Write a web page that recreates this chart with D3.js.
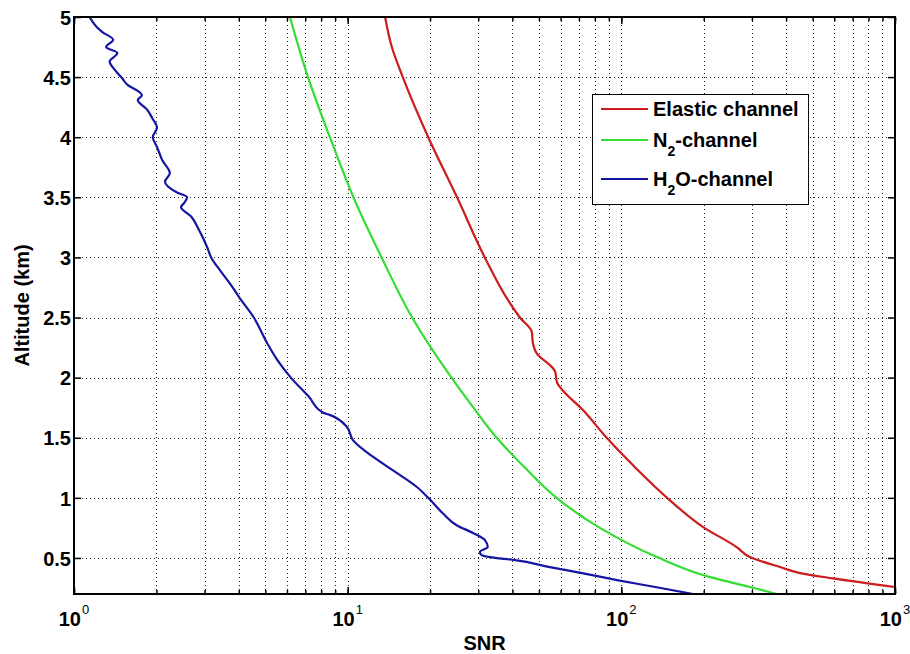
<!DOCTYPE html>
<html>
<head>
<meta charset="utf-8">
<script src="https://cdn.jsdelivr.net/npm/d3@7"></script>
<style>
body{margin:0;background:#fff;}
svg{display:block;font-family:"Liberation Sans",Arial,Helvetica,sans-serif;}
.grid line{stroke:#222;stroke-width:1;stroke-dasharray:1,3;}
.tick text{font-weight:bold;}
</style>
</head>
<body>
<svg id="chart" width="910" height="654"></svg>
<script>
'use strict';
/*
 *
 *	Data
 *
 */
var seriesNames = ["Elastic channel", "N2-channel", "H2O-channel"];

var elasticAlt = [5.0, 4.75, 4.5, 4.0, 3.5, 3.0, 2.646, 2.5, 2.38, 2.29, 2.19, 2.105, 2.05, 1.96, 1.92, 1.73, 1.497, 1.256, 1.0, 0.757, 0.59, 0.507, 0.424, 0.374, 0.33, 0.258];
var elasticSnr = [13.7, 14.5, 15.9, 19.7, 25.1, 31.7, 38.5, 42.6, 47.1, 47.5, 49.5, 54.8, 57.3, 58.2, 59.7, 72.4, 88.6, 112, 147, 199, 264, 295, 380, 450, 593, 1000];

var n2Alt = [5.0, 4.5, 4.0, 3.5, 3.0, 2.5, 2.02, 1.75, 1.497, 1.25, 1.0, 0.75, 0.507, 0.34, 0.258, 0.2];
var n2Snr = [6.15, 7.16, 8.61, 10.5, 13.3, 17.2, 23.6, 28.8, 35.1, 44.5, 58.0, 83.5, 135, 211, 295, 370];

var h2oAlt = [5.0, 4.917, 4.875, 4.81, 4.75, 4.70, 4.63, 4.56, 4.49, 4.43, 4.39, 4.35, 4.31, 4.23, 4.16, 4.08, 4.0, 3.92, 3.81, 3.70, 3.63, 3.54, 3.50, 3.45, 3.42, 3.34, 3.23, 3.09, 3.0, 2.88, 2.77, 2.67, 2.5, 2.29, 2.15, 2.0, 1.84, 1.71, 1.69, 1.59, 1.48, 1.34, 1.23, 1.09, 1.0, 0.87, 0.77, 0.71, 0.65, 0.59, 0.55, 0.525, 0.507, 0.482, 0.424, 0.374, 0.316, 0.258, 0.2];
var h2oSnr = [1.14, 1.21, 1.27, 1.39, 1.31, 1.44, 1.35, 1.41, 1.50, 1.58, 1.70, 1.77, 1.71, 1.85, 1.93, 2.01, 1.94, 2.01, 2.10, 2.24, 2.15, 2.38, 2.59, 2.52, 2.46, 2.68, 2.86, 3.06, 3.17, 3.45, 3.75, 4.01, 4.54, 5.07, 5.52, 6.20, 7.22, 8.11, 8.6, 9.94, 10.45, 12.4, 14.6, 17.9, 19.7, 22.3, 25.1, 28.6, 31.7, 32.5, 30.4, 30.8, 33.1, 40.9, 54.8, 71.8, 96.4, 133, 183];

var xMajor = [1, 10, 100, 1000];
var xExp = ["0", "1", "2", "3"];
var yTicks = [0.5, 1, 1.5, 2, 2.5, 3, 3.5, 4, 4.5, 5];

/*
 *
 *	Setup
 *
 */
var L = 74, R = 895, T = 17, B = 594;
var svg = d3.select("#chart");
var x = d3.scaleLog().domain([1, 1000]).range([L, R]);
var y = d3.scaleLinear().domain([0.2, 5]).range([B, T]);
var xMinor = x.ticks();

// points bottom-up so the monotone curve behaves
function pairs(a, s){
	return a.map(function(d, i){ return [s[i], d]; }).reverse();
}
var series = [
	{name: seriesNames[0], color: "#cc1c1c", pts: pairs(elasticAlt, elasticSnr), sub: null},
	{name: seriesNames[1], color: "#33dd33", pts: pairs(n2Alt, n2Snr), sub: ["N", "2", "-channel"]},
	{name: seriesNames[2], color: "#1515a3", pts: pairs(h2oAlt, h2oSnr), sub: ["H", "2", "O-channel"]}
];

svg.append("clipPath").attr("id", "clip")
	.append("rect").attr("x", L).attr("y", T).attr("width", R - L).attr("height", B - T);

// grid
var grid = svg.append("g").attr("class", "grid");
grid.selectAll(".gx").data(xMinor.filter(function(d){ return d > 1 && d < 1000; }))
	.enter().append("line")
	.attr("x1", function(d){ return Math.round(x(d)) + 0.5; })
	.attr("x2", function(d){ return Math.round(x(d)) + 0.5; })
	.attr("y1", T).attr("y2", B);
grid.selectAll(".gy").data(yTicks.filter(function(d){ return d < 5; }))
	.enter().append("line")
	.attr("y1", function(d){ return Math.round(y(d)) + 0.5; })
	.attr("y2", function(d){ return Math.round(y(d)) + 0.5; })
	.attr("x1", L).attr("x2", R);

// lines
var line = d3.line()
	.x(function(d){ return x(d[0]); })
	.y(function(d){ return y(d[1]); })
	.curve(d3.curveMonotoneY);
svg.append("g").attr("clip-path", "url(#clip)")
	.selectAll("path").data(series).enter().append("path")
	.attr("fill", "none")
	.attr("stroke", function(d){ return d.color; })
	.attr("stroke-width", 2.2)
	.attr("stroke-linejoin", "round")
	.attr("d", function(d){ return line(d.pts); });

/*
 *
 *	Axes (ticks inward, box)
 *
 */
function plainAxis(g, gen){
	g.call(gen);
	g.select(".domain").remove();
	g.selectAll("line").attr("stroke", "#000").attr("stroke-width", 1.5);
}
svg.append("g").attr("transform", "translate(0," + B + ")")
	.call(plainAxis, d3.axisBottom(x).tickValues(xMinor).tickSize(-4).tickFormat(""));
svg.append("g").attr("transform", "translate(0," + T + ")")
	.call(plainAxis, d3.axisTop(x).tickValues(xMinor).tickSize(-4).tickFormat(""));
svg.append("g").attr("transform", "translate(0," + B + ")")
	.call(plainAxis, d3.axisBottom(x).tickValues(xMajor).tickSize(-7).tickFormat(""));
svg.append("g").attr("transform", "translate(0," + T + ")")
	.call(plainAxis, d3.axisTop(x).tickValues(xMajor).tickSize(-7).tickFormat(""));
svg.append("g").attr("transform", "translate(" + R + ",0)")
	.call(plainAxis, d3.axisRight(y).tickValues(yTicks).tickSize(-7).tickFormat(""));

var yAxis = svg.append("g").attr("transform", "translate(" + L + ",0)")
	.call(d3.axisLeft(y).tickValues(yTicks).tickSize(-7).tickPadding(3).tickFormat(d3.format("")));
yAxis.select(".domain").remove();
yAxis.selectAll("line").attr("stroke", "#000").attr("stroke-width", 1.5);
yAxis.selectAll("text").attr("font-size", 20).attr("fill", "#000").attr("dy", "0.36em");

// x labels 10^n
var xl = svg.append("g").selectAll("text").data(xMajor).enter().append("text")
	.attr("x", function(d){ return x(d); })
	.attr("y", 626)
	.attr("text-anchor", "middle")
	.attr("font-weight", "bold")
	.attr("font-size", 20);
xl.append("tspan").text("10");
xl.append("tspan").attr("dy", -12).attr("dx", 1).attr("font-size", 13).attr("font-weight", "normal")
	.text(function(d, i){ return xExp[i]; });

svg.append("rect").attr("x", L).attr("y", T).attr("width", R - L).attr("height", B - T)
	.attr("fill", "none").attr("stroke", "#000").attr("stroke-width", 2);

// axis titles
svg.append("text").attr("x", (L + R) / 2).attr("y", 650).attr("text-anchor", "middle")
	.attr("font-weight", "bold").attr("font-size", 20).text("SNR");
svg.append("text").attr("transform", "translate(29," + (T + B) / 2 + ") rotate(-90)")
	.attr("text-anchor", "middle").attr("font-weight", "bold").attr("font-size", 20)
	.text("Altitude (km)");

/*
 *
 *	Legend
 *
 */
var lg = svg.append("g");
lg.append("rect").attr("x", 592.5).attr("y", 94.5).attr("width", 216).attr("height", 110)
	.attr("fill", "#fff").attr("stroke", "#000").attr("stroke-width", 1);
var rowY = [109, 140, 179];
series.forEach(function(s, i){
	lg.append("line").attr("x1", 601).attr("x2", 648).attr("y1", rowY[i]).attr("y2", rowY[i])
		.attr("stroke", s.color).attr("stroke-width", 2);
	var t = lg.append("text").attr("x", 653).attr("y", rowY[i] + 7)
		.attr("font-weight", "bold").attr("font-size", 20);
	if (s.sub){
		t.append("tspan").text(s.sub[0]);
		t.append("tspan").attr("dy", 9).attr("font-size", 14).text(s.sub[1]);
		t.append("tspan").attr("dy", -9).text(s.sub[2]);
	}
	else{
		t.text(s.name);
	}
});
</script>
</body>
</html>
